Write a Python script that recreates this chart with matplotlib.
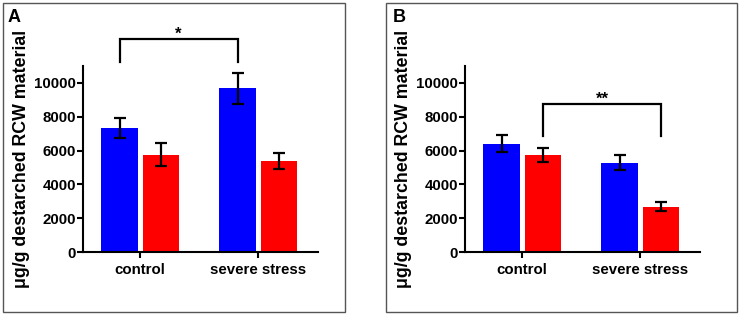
import matplotlib.pyplot as plt
import matplotlib.patches as patches

plt.rcParams['font.family'] = ['Liberation Sans', 'DejaVu Sans']
plt.rcParams['font.weight'] = 'bold'

groups = ["control", "severe stress"]
yticks = [0, 2000, 4000, 6000, 8000, 10000]

# panel A
a_blue = [7350, 9680]
a_blue_err = [580, 900]
a_red = [5760, 5380]
a_red_err = [680, 500]

# panel B
b_blue = [6390, 5290]
b_blue_err = [500, 450]
b_red = [5740, 2680]
b_red_err = [420, 260]

fig = plt.figure(figsize=(7.42, 3.17), dpi=100)

# outer frames round each panel
for (x0, x1) in [(3, 345), (386, 737)]:
    fig.add_artist(patches.Rectangle((x0 / 742, 1 - 312 / 317), (x1 - x0) / 742, 309 / 317,
                                     transform=fig.transFigure, fill=False,
                                     edgecolor='#555555', linewidth=1.0))


def panel(left, letter, letter_x, blue, blue_err, red, red_err, bracket, bracket_y, stars):
    ax = fig.add_axes([left / 742, 1 - 252 / 317, 235 / 742, (252 - 66) / 317])
    x = range(len(groups))
    off = 0.175
    w = 0.31
    ekw = dict(elinewidth=1.6, capthick=1.6, ecolor='black')
    ax.bar([i - off for i in x], blue, w, yerr=blue_err, color='#0000FF',
           capsize=4, error_kw=ekw)
    ax.bar([i + off for i in x], red, w, yerr=red_err, color='#FF0000',
           capsize=4, error_kw=ekw)
    ax.set_xlim(-0.485, 1.505)
    ax.set_ylim(0, 11000)
    ax.set_yticks(yticks)
    ax.set_xticks(list(x))
    ax.set_xticklabels(groups, fontsize=10.8, fontweight='bold')
    ax.tick_params(axis='y', labelsize=10.8, width=1.5, length=4, pad=1)
    ax.tick_params(axis='x', width=1.5, length=4, pad=4)
    for s in ['top', 'right']:
        ax.spines[s].set_visible(False)
    for s in ['left', 'bottom']:
        ax.spines[s].set_linewidth(1.5)
    ax.set_ylabel("μg/g destarched RCW material", fontsize=12.8, fontweight='bold', labelpad=3)
    # significance bracket
    bx0, bx1 = bracket
    ylo, yhi = bracket_y
    ax.plot([bx0, bx0, bx1, bx1], [ylo, yhi, yhi, ylo], color='black', lw=1.6,
            clip_on=False, solid_joinstyle='miter')
    ax.text((bx0 + bx1) / 2, yhi + 250, stars, ha='center', va='center',
            fontsize=12, fontweight='bold')
    fig.text(letter_x / 742, 1 - 17 / 317, letter, fontsize=13, fontweight='bold',
             va='center', ha='left')
    return ax


panel(83, "A", 8, a_blue, a_blue_err, a_red, a_red_err,
      (-0.175, 0.825), (11240, 12600), "*")
panel(465, "B", 393, b_blue, b_blue_err, b_red, b_red_err,
      (0.175, 1.175), (6860, 8780), "**")

fig.savefig("out.png", dpi=100)
